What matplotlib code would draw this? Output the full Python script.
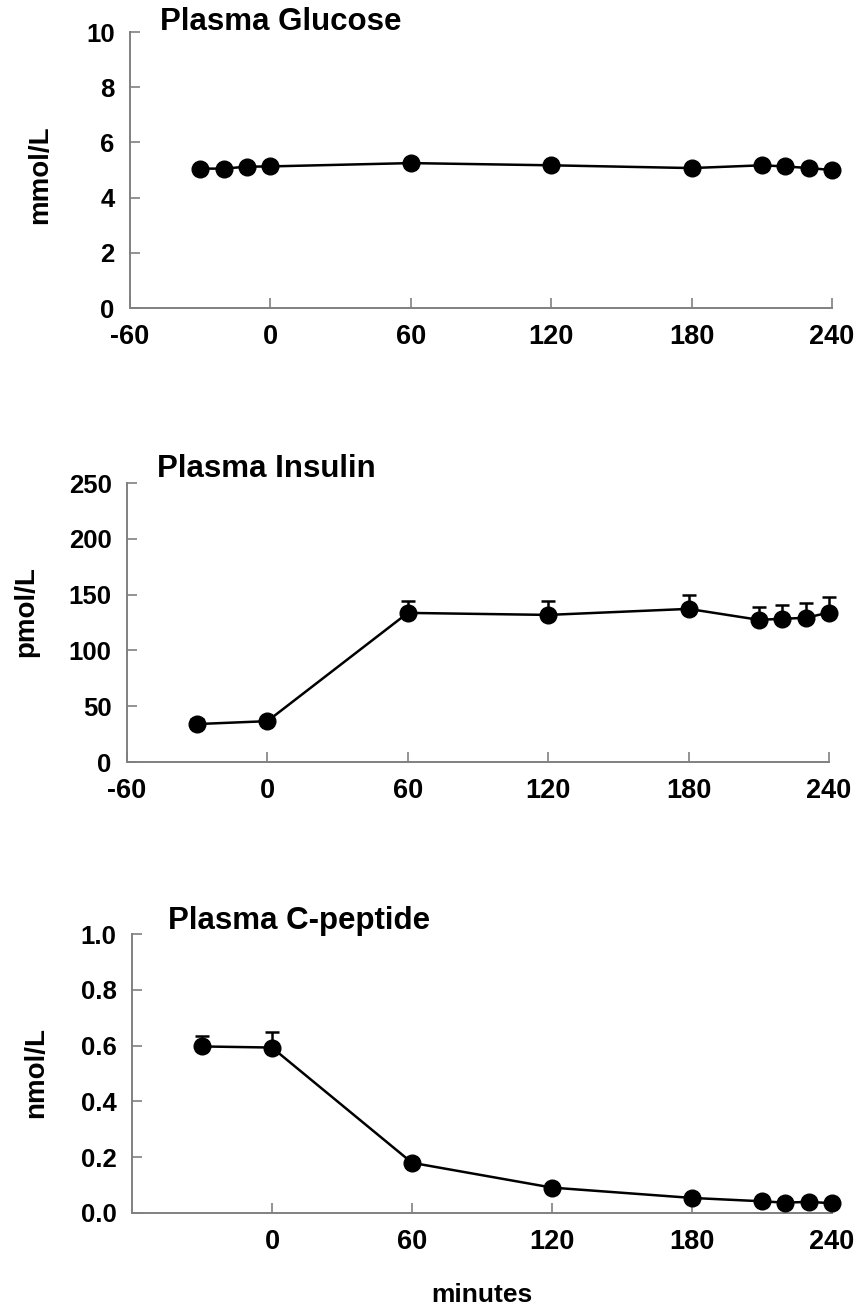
import matplotlib
matplotlib.use("Agg")
import matplotlib.pyplot as plt

plt.rcParams['font.family'] = ['Liberation Sans', 'DejaVu Sans']
plt.rcParams['font.weight'] = 'bold'

# ---- data ----
glu_t = [-30, -20, -10, 0, 60, 120, 180, 210, 220, 230, 240]
glu_mean = [5.05, 5.05, 5.12, 5.13, 5.25, 5.17, 5.07, 5.17, 5.13, 5.07, 5.00]
glu_err = [0.04, 0.04, 0.04, 0.04, 0.12, 0.05, 0.05, 0.05, 0.05, 0.04, 0.06]

ins_t = [-30, 0, 60, 120, 180, 210, 220, 230, 240]
ins_mean = [34, 36.6, 133.6, 131.8, 137.2, 127.4, 128.3, 129.2, 133.9]
ins_err = [4.4, 3.0, 10.4, 12.2, 12.5, 11.9, 12.5, 13.7, 13.7]

cp_t = [-30, 0, 60, 120, 180, 210, 220, 230, 240]
cp_mean = [0.597, 0.593, 0.180, 0.091, 0.054, 0.042, 0.037, 0.040, 0.035]
cp_err = [0.036, 0.054, 0.012, 0.006, 0.005, 0.004, 0.004, 0.004, 0.004]

titles = ["Plasma Glucose", "Plasma Insulin", "Plasma C-peptide"]
ylabels = ["mmol/L", "pmol/L", "nmol/L"]
yticks = [[0, 2, 4, 6, 8, 10], [0, 50, 100, 150, 200, 250],
          [0.0, 0.2, 0.4, 0.6, 0.8, 1.0]]
ytick_labels = [["0", "2", "4", "6", "8", "10"],
                ["0", "50", "100", "150", "200", "250"],
                ["0.0", "0.2", "0.4", "0.6", "0.8", "1.0"]]
xticks_full = [-60, 0, 60, 120, 180, 240]
xticks_last = [0, 60, 120, 180, 240]
xlabel = "minutes"

W, H = 857, 1310
fig = plt.figure(figsize=(W / 100, H / 100), dpi=100)

def rect(l, r, t, b):
    return [l / W, 1 - b / H, (r - l) / W, (b - t) / H]

axes_px = [(130, 832, 32, 308), (127, 829, 483, 762), (132, 832, 934, 1213)]
title_px = [(160, 22), (157, 469), (168, 921)]
ylabel_px = [(40, 175), (26, 612), (36, 1072)]

series = [(glu_t, glu_mean, glu_err), (ins_t, ins_mean, ins_err),
          (cp_t, cp_mean, cp_err)]
spine_col = "#808080"

for i, (t, m, e) in enumerate(series):
    ax = fig.add_axes(rect(*axes_px[i]))
    ax.errorbar(t, m, yerr=[[0] * len(e), e], fmt='o-', color='black',
                ms=12, lw=1.8, elinewidth=1.8, capsize=5, capthick=1.8,
                clip_on=False, zorder=3)
    ax.set_xlim(-60, 240)
    ax.set_ylim(yticks[i][0], yticks[i][-1])
    ax.set_yticks(yticks[i])
    ax.set_yticklabels(ytick_labels[i])
    xt = xticks_full if i < 2 else xticks_last
    ax.set_xticks(xt)
    ax.set_xticklabels([str(v) for v in xt])
    for s in ("top", "right"):
        ax.spines[s].set_visible(False)
    for s in ("left", "bottom"):
        ax.spines[s].set_color(spine_col)
        ax.spines[s].set_linewidth(1.4)
    ax.tick_params(axis='both', direction='in', length=7, width=1.2,
                   color=spine_col)
    ax.tick_params(axis='y', pad=11, labelsize=18.5)
    ax.tick_params(axis='x', pad=11.5, labelsize=19.5)
    for lab in ax.get_xticklabels() + ax.get_yticklabels():
        lab.set_fontweight('bold')
    fig.text(title_px[i][0] / W, 1 - title_px[i][1] / H, titles[i],
             fontsize=22.5, fontweight='bold', ha='left', va='center')
    fig.text(ylabel_px[i][0] / W, 1 - ylabel_px[i][1] / H, ylabels[i],
             fontsize=20, fontweight='bold', rotation=90,
             ha='center', va='center')

fig.text(482 / W, 1 - 1302 / H, xlabel, fontsize=19, fontweight='bold',
         ha='center', va='baseline')

fig.savefig("out.png", dpi=100)
